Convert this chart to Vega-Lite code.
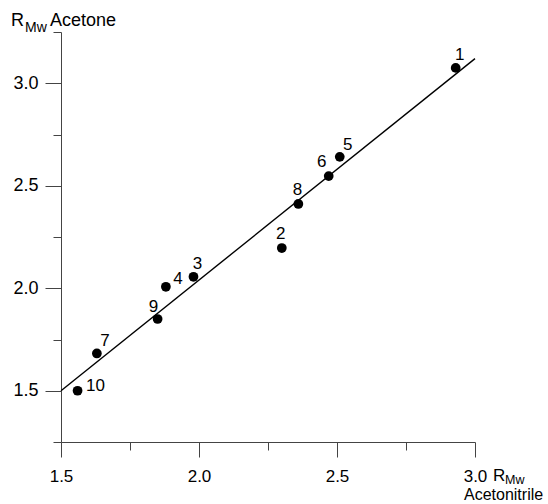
{
  "$schema": "https://vega.github.io/schema/vega-lite/v6.json",
  "width": 414,
  "height": 410,
  "autosize": "none",
  "padding": {"left": 61, "top": 32, "right": 73, "bottom": 62},
  "background": "white",
  "config": {"view": {"stroke": null}, "font": "Liberation Sans", "text": {"font": "Liberation Sans", "color": "black"}},
  "datasets": {
    "points": [
      {"n": "1", "x": 2.93, "y": 3.075},
      {"n": "2", "x": 2.30, "y": 2.196},
      {"n": "3", "x": 1.98, "y": 2.056},
      {"n": "4", "x": 1.88, "y": 2.007},
      {"n": "5", "x": 2.51, "y": 2.641},
      {"n": "6", "x": 2.47, "y": 2.547},
      {"n": "7", "x": 1.63, "y": 1.682},
      {"n": "8", "x": 2.36, "y": 2.411},
      {"n": "9", "x": 1.85, "y": 1.85},
      {"n": "10", "x": 1.56, "y": 1.50}
    ],
    "fit": [{"x": 1.5, "y": 1.5}, {"x": 3.0, "y": 3.12}],
    "one": [{}]
  },
  "layer": [
    {
      "data": {"name": "fit"},
      "mark": {"type": "line", "color": "black", "strokeWidth": 1.4, "clip": false},
      "encoding": {
        "x": {"field": "x", "type": "quantitative",
          "scale": {"domain": [1.5, 3.0], "nice": false, "zero": false},
          "axis": {
            "title": null, "grid": false,
            "values": [1.5, 1.75, 2, 2.25, 2.5, 2.75, 3],
            "labelExpr": "abs(datum.value*2 - round(datum.value*2)) > 0.01 ? '' : format(datum.value, '.1f')",
            "tickSize": {"condition": {"test": "abs(datum.value*2 - round(datum.value*2)) > 0.01", "value": 8}, "value": 15},
            "domainColor": "#444", "tickColor": "#444", "domainWidth": 1, "tickWidth": 1,
            "labelFont": "Liberation Sans", "labelFontSize": 17, "labelColor": "black",
            "labelPadding": 11, "labelFlush": false, "labelOverlap": false
          }},
        "y": {"field": "y", "type": "quantitative",
          "scale": {"domain": [1.25, 3.25], "nice": false, "zero": false},
          "axis": {
            "title": null, "grid": false,
            "values": [1.25, 1.5, 1.75, 2, 2.25, 2.5, 2.75, 3, 3.25],
            "labelExpr": "abs(datum.value*2 - round(datum.value*2)) > 0.01 ? '' : format(datum.value, '.1f')",
            "tickSize": {"condition": {"test": "abs(datum.value*2 - round(datum.value*2)) > 0.01", "value": 8}, "value": 16},
            "domainColor": "#444", "tickColor": "#444", "domainWidth": 1, "tickWidth": 1,
            "labelFont": "Liberation Sans", "labelFontSize": 18, "labelColor": "black",
            "labelPadding": 7, "labelFlush": false, "labelOverlap": false
          }}
      }
    },
    {
      "data": {"name": "points"},
      "mark": {"type": "circle", "color": "black", "opacity": 1, "size": 95, "clip": false},
      "encoding": {
        "x": {"field": "x", "type": "quantitative", "scale": {"domain": [1.5, 3.0], "nice": false, "zero": false}, "axis": {"title": null}},
        "y": {"field": "y", "type": "quantitative", "scale": {"domain": [1.25, 3.25], "nice": false, "zero": false}, "axis": {"title": null}}
      }
    },
    {
      "data": {"name": "points"},
      "transform": [{"filter": {"field": "n", "oneOf": ["1", "3"]}}],
      "mark": {"type": "text", "fontSize": 17, "dx": 4, "dy": -13, "align": "center", "baseline": "middle"},
      "encoding": {
        "x": {"field": "x", "type": "quantitative", "scale": {"domain": [1.5, 3.0], "nice": false, "zero": false}, "axis": {"title": null}},
        "y": {"field": "y", "type": "quantitative", "scale": {"domain": [1.25, 3.25], "nice": false, "zero": false}, "axis": {"title": null}},
        "text": {"field": "n"}
      }
    },
    {
      "data": {"name": "points"},
      "transform": [{"filter": {"field": "n", "oneOf": ["5", "7"]}}],
      "mark": {"type": "text", "fontSize": 17, "dx": 8, "dy": -12, "align": "center", "baseline": "middle"},
      "encoding": {
        "x": {"field": "x", "type": "quantitative", "scale": {"domain": [1.5, 3.0], "nice": false, "zero": false}, "axis": {"title": null}},
        "y": {"field": "y", "type": "quantitative", "scale": {"domain": [1.25, 3.25], "nice": false, "zero": false}, "axis": {"title": null}},
        "text": {"field": "n"}
      }
    },
    {
      "data": {"name": "points"},
      "transform": [{"filter": {"field": "n", "oneOf": ["6"]}}],
      "mark": {"type": "text", "fontSize": 17, "dx": -7, "dy": -14, "align": "center", "baseline": "middle"},
      "encoding": {
        "x": {"field": "x", "type": "quantitative", "scale": {"domain": [1.5, 3.0], "nice": false, "zero": false}, "axis": {"title": null}},
        "y": {"field": "y", "type": "quantitative", "scale": {"domain": [1.25, 3.25], "nice": false, "zero": false}, "axis": {"title": null}},
        "text": {"field": "n"}
      }
    },
    {
      "data": {"name": "points"},
      "transform": [{"filter": {"field": "n", "oneOf": ["9"]}}],
      "mark": {"type": "text", "fontSize": 17, "dx": -4, "dy": -12, "align": "center", "baseline": "middle"},
      "encoding": {
        "x": {"field": "x", "type": "quantitative", "scale": {"domain": [1.5, 3.0], "nice": false, "zero": false}, "axis": {"title": null}},
        "y": {"field": "y", "type": "quantitative", "scale": {"domain": [1.25, 3.25], "nice": false, "zero": false}, "axis": {"title": null}},
        "text": {"field": "n"}
      }
    },
    {
      "data": {"name": "points"},
      "transform": [{"filter": {"field": "n", "oneOf": ["8", "2"]}}],
      "mark": {"type": "text", "fontSize": 17, "dx": -1, "dy": -14, "align": "center", "baseline": "middle"},
      "encoding": {
        "x": {"field": "x", "type": "quantitative", "scale": {"domain": [1.5, 3.0], "nice": false, "zero": false}, "axis": {"title": null}},
        "y": {"field": "y", "type": "quantitative", "scale": {"domain": [1.25, 3.25], "nice": false, "zero": false}, "axis": {"title": null}},
        "text": {"field": "n"}
      }
    },
    {
      "data": {"name": "points"},
      "transform": [{"filter": {"field": "n", "oneOf": ["4"]}}],
      "mark": {"type": "text", "fontSize": 17, "dx": 12, "dy": -8, "align": "center", "baseline": "middle"},
      "encoding": {
        "x": {"field": "x", "type": "quantitative", "scale": {"domain": [1.5, 3.0], "nice": false, "zero": false}, "axis": {"title": null}},
        "y": {"field": "y", "type": "quantitative", "scale": {"domain": [1.25, 3.25], "nice": false, "zero": false}, "axis": {"title": null}},
        "text": {"field": "n"}
      }
    },
    {
      "data": {"name": "points"},
      "transform": [{"filter": {"field": "n", "oneOf": ["10"]}}],
      "mark": {"type": "text", "fontSize": 17, "dx": 18, "dy": -5, "align": "center", "baseline": "middle"},
      "encoding": {
        "x": {"field": "x", "type": "quantitative", "scale": {"domain": [1.5, 3.0], "nice": false, "zero": false}, "axis": {"title": null}},
        "y": {"field": "y", "type": "quantitative", "scale": {"domain": [1.25, 3.25], "nice": false, "zero": false}, "axis": {"title": null}},
        "text": {"field": "n"}
      }
    },
    {
      "data": {"name": "one"},
      "mark": {"type": "text", "text": "R", "fontSize": 18, "align": "left", "baseline": "alphabetic", "dx": -50, "dy": -6},
      "encoding": {
        "x": {"datum": 1.5, "type": "quantitative", "scale": {"domain": [1.5, 3.0], "nice": false, "zero": false}, "axis": {"title": null}},
        "y": {"datum": 3.25, "type": "quantitative", "scale": {"domain": [1.25, 3.25], "nice": false, "zero": false}, "axis": {"title": null}}
      }
    },
    {
      "data": {"name": "one"},
      "mark": {"type": "text", "text": "Mw", "fontSize": 14, "align": "left", "baseline": "alphabetic", "dx": -36, "dy": 0},
      "encoding": {
        "x": {"datum": 1.5, "type": "quantitative", "scale": {"domain": [1.5, 3.0], "nice": false, "zero": false}, "axis": {"title": null}},
        "y": {"datum": 3.25, "type": "quantitative", "scale": {"domain": [1.25, 3.25], "nice": false, "zero": false}, "axis": {"title": null}}
      }
    },
    {
      "data": {"name": "one"},
      "mark": {"type": "text", "text": "Acetone", "fontSize": 18, "align": "left", "baseline": "alphabetic", "dx": -11, "dy": -6},
      "encoding": {
        "x": {"datum": 1.5, "type": "quantitative", "scale": {"domain": [1.5, 3.0], "nice": false, "zero": false}, "axis": {"title": null}},
        "y": {"datum": 3.25, "type": "quantitative", "scale": {"domain": [1.25, 3.25], "nice": false, "zero": false}, "axis": {"title": null}}
      }
    },
    {
      "data": {"name": "one"},
      "mark": {"type": "text", "text": "R", "fontSize": 17, "align": "left", "baseline": "alphabetic", "dx": 18, "dy": 39},
      "encoding": {
        "x": {"datum": 3.0, "type": "quantitative", "scale": {"domain": [1.5, 3.0], "nice": false, "zero": false}, "axis": {"title": null}},
        "y": {"datum": 1.25, "type": "quantitative", "scale": {"domain": [1.25, 3.25], "nice": false, "zero": false}, "axis": {"title": null}}
      }
    },
    {
      "data": {"name": "one"},
      "mark": {"type": "text", "text": "Mw", "fontSize": 12.5, "align": "left", "baseline": "alphabetic", "dx": 30, "dy": 42},
      "encoding": {
        "x": {"datum": 3.0, "type": "quantitative", "scale": {"domain": [1.5, 3.0], "nice": false, "zero": false}, "axis": {"title": null}},
        "y": {"datum": 1.25, "type": "quantitative", "scale": {"domain": [1.25, 3.25], "nice": false, "zero": false}, "axis": {"title": null}}
      }
    },
    {
      "data": {"name": "one"},
      "mark": {"type": "text", "text": "Acetonitrile", "fontSize": 16, "align": "left", "baseline": "alphabetic", "dx": -11, "dy": 58},
      "encoding": {
        "x": {"datum": 3.0, "type": "quantitative", "scale": {"domain": [1.5, 3.0], "nice": false, "zero": false}, "axis": {"title": null}},
        "y": {"datum": 1.25, "type": "quantitative", "scale": {"domain": [1.25, 3.25], "nice": false, "zero": false}, "axis": {"title": null}}
      }
    }
  ]
}
